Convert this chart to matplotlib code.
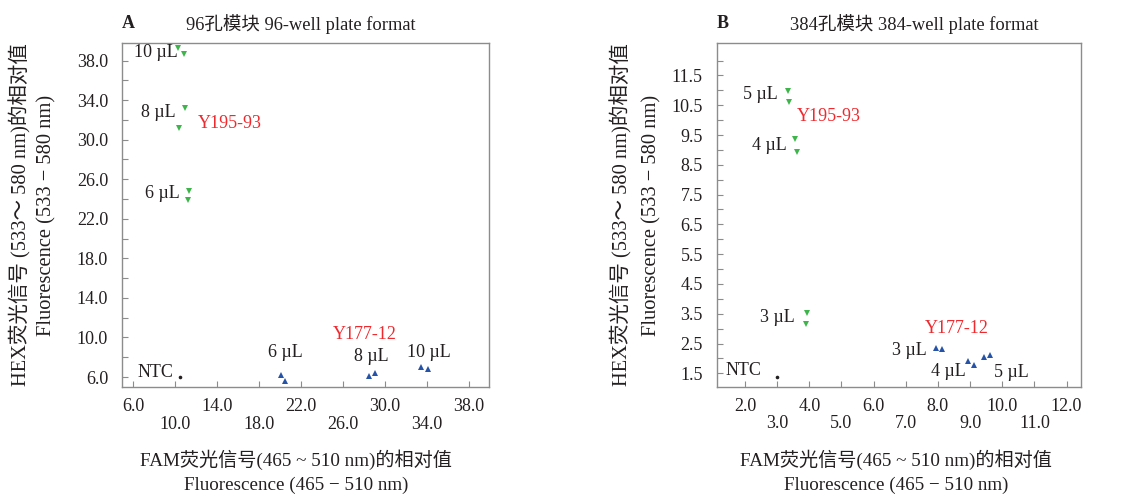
import matplotlib
matplotlib.use("Agg")
import matplotlib.pyplot as plt
import numpy as np

plt.rcParams['font.family'] = ['Liberation Serif', 'Noto Sans CJK SC', 'DejaVu Sans']
plt.rcParams['axes.unicode_minus'] = False

# ---- panel A: 96-well plate ----
a_y195_x = [10.3, 10.83, 10.9, 10.38, 11.33, 11.2]
a_y195_y = [39.3, 38.68, 33.2, 31.2, 24.85, 23.9]
a_y177_x = [20.04, 20.45, 28.45, 29.08, 33.43, 34.07]
a_y177_y = [6.2, 5.63, 6.07, 6.44, 7.04, 6.78]
a_ntc_x = [10.44]
a_ntc_y = [6.0]
a_xticks = [6, 10, 14, 18, 22, 26, 30, 34, 38]
a_yticks = [6, 8, 10, 12, 14, 16, 18, 20, 22, 24, 26, 28, 30, 32, 34, 36, 38]
a_ylabeled = [6, 10, 14, 18, 22, 26, 30, 34, 38]

# ---- panel B: 384-well plate ----
b_y195_x = [3.33, 3.37, 3.56, 3.61, 3.93, 3.89]
b_y195_y = [10.98, 10.61, 9.35, 8.94, 3.53, 3.15]
b_y177_x = [7.93, 8.13, 8.95, 9.13, 9.43, 9.63]
b_y177_y = [2.36, 2.32, 1.91, 1.78, 2.04, 2.11]
b_ntc_x = [2.98]
b_ntc_y = [1.39]
b_xticks = [2, 3, 4, 5, 6, 7, 8, 9, 10, 11, 12]
b_yticks = [1.5, 2.0, 2.5, 3.0, 3.5, 4.0, 4.5, 5.0, 5.5, 6.0, 6.5, 7.0, 7.5, 8.0,
            8.5, 9.0, 9.5, 10.0, 10.5, 11.0, 11.5, 12.0]
b_ylabeled = [1.5, 2.5, 3.5, 4.5, 5.5, 6.5, 7.5, 8.5, 9.5, 10.5, 11.5]

GREEN = '#3db54a'
BLUE = '#2553a8'
RED = '#ee2a2e'
TXT = '#231f20'
SPINE = '#8c8c8c'
FS = 13

W, H = 1123, 495
fig = plt.figure(figsize=(W / 100, H / 100), dpi=100)


def px_axes(l, t, r, b):
    return fig.add_axes([l / W, 1 - b / H, (r - l) / W, (b - t) / H])


def style(ax, xticks, yticks, ylabeled):
    for s in ax.spines.values():
        s.set_color(SPINE)
        s.set_linewidth(1.0)
    ax.set_xticks(xticks)
    ax.set_xticklabels([("%.1f" % v) if i % 2 == 0 else ("\n%.1f" % v)
                        for i, v in enumerate(xticks)], fontsize=FS, color=TXT,
                       linespacing=1.05)
    ax.set_yticks(yticks)
    ax.set_yticklabels([("%.1f" % v) if v in ylabeled else "" for v in yticks],
                       fontsize=FS, color=TXT)
    ax.tick_params(direction='in', length=4.5, width=0.8, color=SPINE)
    ax.tick_params(axis='x', pad=8)
    ax.tick_params(axis='y', pad=10)


def draw(ax, gx, gy, bx, by, nx, ny):
    ax.plot(gx, gy, linestyle='none', marker='v', ms=4.5, color=GREEN, mew=0)
    ax.plot(bx, by, linestyle='none', marker='^', ms=4.5, color=BLUE, mew=0)
    ax.plot(nx, ny, linestyle='none', marker='o', ms=2.6, color=TXT, mew=0)


# Panel A
axA = px_axes(122, 42.7, 489, 387)
draw(axA, a_y195_x, a_y195_y, a_y177_x, a_y177_y, a_ntc_x, a_ntc_y)
axA.set_xlim(4.92, 39.9)
axA.set_ylim(4.99, 39.8)
style(axA, a_xticks, a_yticks, a_ylabeled)

for x, y, s, ha, c in [
    (10.2, 38.78, '10 µL', 'right', TXT),
    (10.0, 32.7, '8 µL', 'right', TXT),
    (10.45, 24.6, '6 µL', 'right', TXT),
    (12.18, 31.6, 'Y195-93', 'left', RED),
    (9.78, 6.5, 'NTC', 'right', TXT),
    (18.82, 8.43, '6 µL', 'left', TXT),
    (25.0, 10.25, 'Y177-12', 'left', RED),
    (27.0, 8.12, '8 µL', 'left', TXT),
    (32.05, 8.47, '10 µL', 'left', TXT),
]:
    axA.text(x, y, s, ha=ha, va='center', fontsize=FS, color=c)

# Panel B
axB = px_axes(716.7, 42.7, 1081, 386.7)
draw(axB, b_y195_x, b_y195_y, b_y177_x, b_y177_y, b_ntc_x, b_ntc_y)
axB.set_xlim(1.12, 12.45)
axB.set_ylim(1.05, 12.6)
style(axB, b_xticks, b_yticks, b_ylabeled)

for x, y, s, ha, c in [
    (3.03, 10.87, '5 µL', 'right', TXT),
    (3.62, 10.13, 'Y195-93', 'left', RED),
    (3.31, 9.16, '4 µL', 'right', TXT),
    (3.55, 3.36, '3 µL', 'right', TXT),
    (1.38, 1.58, 'NTC', 'left', TXT),
    (7.6, 2.99, 'Y177-12', 'left', RED),
    (7.66, 2.25, '3 µL', 'right', TXT),
    (8.87, 1.55, '4 µL', 'right', TXT),
    (9.74, 1.52, '5 µL', 'left', TXT),
]:
    axB.text(x, y, s, ha=ha, va='center', fontsize=FS, color=c)


def ftext(x, y, s, fs=FS, **kw):
    fig.text(x / W, 1 - y / H, s, color=TXT, fontsize=fs, **kw)


# panel letters and titles
ftext(122, 23, 'A', ha='left', va='center', fontweight='bold')
ftext(301, 24, '96孔模块 96-well plate format', fs=13.3, ha='center', va='center')
ftext(717, 23, 'B', ha='left', va='center', fontweight='bold')
ftext(914, 24, '384孔模块 384-well plate format', fs=13.3, ha='center', va='center')

# axis titles
for cx, l1x, l2x in [(296, 20, 47), (896, 621.7, 651.7)]:
    ftext(cx, 460, 'FAM荧光信号(465 ~ 510 nm)的相对值', fs=13.8,
          ha='center', va='center')
    ftext(cx, 485, 'Fluorescence (465 − 510 nm)', fs=13.7, ha='center', va='center')
    ftext(l1x, 215, 'HEX荧光信号 (533～ 580 nm)的相对值', fs=14.8,
          ha='center', va='center', rotation=90)
    ftext(l2x, 215, 'Fluorescence (533 − 580 nm)', fs=14.8, ha='center',
          va='center', rotation=90)

fig.savefig('out.png', dpi=100)
